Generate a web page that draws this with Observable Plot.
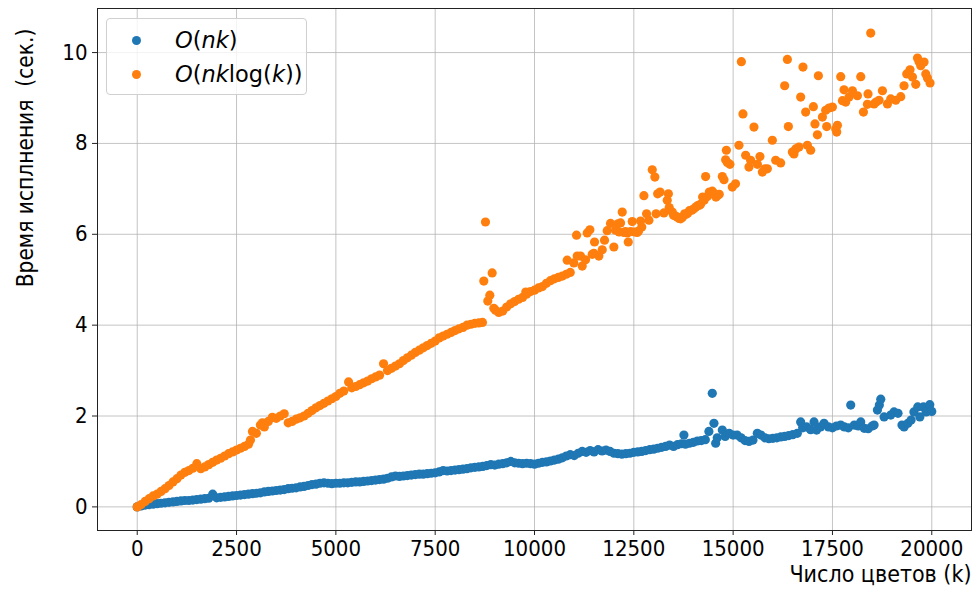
<!DOCTYPE html>
<html><head><meta charset="utf-8">
<script src="https://cdn.jsdelivr.net/npm/d3@7"></script>
<script src="https://cdn.jsdelivr.net/npm/@observablehq/plot@0.6"></script>
<style>
body{margin:0;background:#fff;}
#wrap{position:relative;width:974px;height:596px;}
#legend{position:absolute;left:106px;top:18px;width:201px;height:77px;border:1px solid #d0d0d0;border-radius:4px;background:rgba(255,255,255,0.8);font-family:"DejaVu Sans",sans-serif;font-size:22.5px;box-sizing:border-box;color:#000;}
.row{position:absolute;left:0;height:30px;display:flex;align-items:center;white-space:nowrap;}
.sw{display:inline-block;width:9px;height:9px;border-radius:50%;margin-left:25px;margin-right:34px;}
.up{font-style:normal}
</style></head>
<body><div id="wrap"></div>
<script>
const xTicks = [0, 2500, 5000, 7500, 10000, 12500, 15000, 17500, 20000];
const yTicks = [0, 2, 4, 6, 8, 10];
const xLabel = "Число цветов (k)";
const yLabel = "Время исплнения\u00a0 (сек.)";
const colors = ["#1f77b4", "#ff7f0e"];

// O(nk): [k, seconds]
const seriesNK = [[0,0.00],[100,0.02],[200,0.04],[300,0.05],[400,0.06],[500,0.07],[600,0.08],[700,0.09],[800,0.10],[900,0.11],[1000,0.12],[1100,0.13],[1200,0.14],[1300,0.14],[1400,0.15],[1500,0.16],[1600,0.17],[1700,0.18],[1800,0.19],[1900,0.28],[2000,0.20],[2100,0.21],[2200,0.22],[2300,0.23],[2400,0.24],[2500,0.25],[2600,0.26],[2700,0.27],[2800,0.28],[2900,0.29],[3000,0.30],[3100,0.31],[3200,0.33],[3300,0.34],[3400,0.35],[3500,0.36],[3600,0.37],[3700,0.38],[3800,0.40],[3900,0.41],[4000,0.42],[4100,0.44],[4200,0.45],[4300,0.47],[4400,0.49],[4500,0.50],[4600,0.52],[4700,0.53],[4800,0.52],[4900,0.51],[5000,0.52],[5100,0.52],[5200,0.53],[5300,0.53],[5400,0.54],[5500,0.55],[5600,0.55],[5700,0.56],[5800,0.57],[5900,0.58],[6000,0.59],[6100,0.60],[6200,0.61],[6300,0.63],[6400,0.66],[6500,0.68],[6600,0.67],[6700,0.68],[6800,0.69],[6900,0.70],[7000,0.71],[7100,0.72],[7200,0.72],[7300,0.73],[7400,0.74],[7500,0.75],[7600,0.77],[7700,0.80],[7800,0.79],[7900,0.80],[8000,0.81],[8100,0.82],[8200,0.83],[8300,0.84],[8400,0.86],[8500,0.87],[8600,0.88],[8700,0.89],[8800,0.91],[8900,0.93],[9000,0.92],[9100,0.94],[9200,0.95],[9300,0.97],[9400,1.00],[9500,0.97],[9600,0.96],[9700,0.95],[9800,0.96],[9900,0.95],[10000,0.94],[10100,0.96],[10200,0.98],[10300,0.99],[10400,1.01],[10500,1.03],[10600,1.05],[10700,1.08],[10800,1.12],[10900,1.15],[11000,1.13],[11100,1.18],[11200,1.22],[11300,1.20],[11400,1.24],[11500,1.21],[11600,1.26],[11700,1.23],[11800,1.25],[11900,1.22],[12000,1.18],[12100,1.17],[12200,1.16],[12300,1.17],[12400,1.18],[12500,1.20],[12600,1.21],[12700,1.22],[12800,1.24],[12900,1.26],[13000,1.27],[13100,1.29],[13200,1.31],[13300,1.33],[13400,1.36],[13500,1.33],[13600,1.37],[13700,1.39],[13761,1.58],[13800,1.38],[13900,1.40],[14000,1.42],[14100,1.45],[14200,1.46],[14300,1.48],[14390,1.66],[14475,2.50],[14517,1.84],[14560,1.40],[14600,1.52],[14727,1.69],[14800,1.55],[14900,1.62],[15000,1.58],[15100,1.58],[15200,1.52],[15300,1.46],[15400,1.44],[15500,1.47],[15609,1.62],[15700,1.58],[15800,1.52],[15900,1.50],[16000,1.51],[16100,1.52],[16200,1.54],[16300,1.55],[16400,1.57],[16500,1.59],[16616,1.62],[16700,1.87],[16750,1.74],[16850,1.76],[16950,1.70],[17036,1.87],[17100,1.69],[17200,1.76],[17288,1.84],[17400,1.76],[17500,1.74],[17600,1.78],[17708,1.80],[17800,1.76],[17900,1.74],[17960,2.24],[18050,1.80],[18150,1.78],[18212,1.87],[18300,1.73],[18400,1.72],[18500,1.78],[18548,1.80],[18632,2.13],[18680,2.24],[18716,2.37],[18800,1.98],[18967,2.02],[19050,2.09],[19150,2.06],[19250,1.80],[19303,1.76],[19400,1.84],[19479,1.91],[19550,2.09],[19647,2.20],[19700,1.98],[19790,2.20],[19857,2.09],[19950,2.25],[20000,2.10]];

// O(nk log(k)): [k, seconds]
const seriesNKlogK = [[0,0.00],[100,0.05],[200,0.12],[300,0.18],[400,0.24],[500,0.28],[600,0.34],[700,0.40],[800,0.47],[900,0.55],[1000,0.62],[1100,0.70],[1200,0.76],[1300,0.80],[1400,0.85],[1500,0.95],[1600,0.84],[1700,0.88],[1800,0.93],[1900,0.98],[2000,1.03],[2100,1.07],[2200,1.12],[2300,1.17],[2400,1.21],[2500,1.25],[2600,1.29],[2700,1.33],[2800,1.38],[2850,1.47],[2900,1.66],[3000,1.62],[3100,1.80],[3150,1.85],[3200,1.76],[3300,1.88],[3400,1.97],[3500,1.95],[3600,2.00],[3700,2.05],[3800,1.85],[3900,1.88],[4000,1.93],[4100,1.96],[4200,2.00],[4300,2.06],[4400,2.12],[4500,2.18],[4600,2.23],[4700,2.28],[4800,2.33],[4900,2.38],[5000,2.43],[5100,2.50],[5200,2.55],[5320,2.75],[5400,2.62],[5500,2.65],[5600,2.69],[5700,2.73],[5800,2.77],[5900,2.82],[6000,2.86],[6100,2.90],[6200,3.15],[6300,3.00],[6400,3.05],[6500,3.10],[6600,3.15],[6700,3.22],[6800,3.28],[6900,3.34],[7000,3.40],[7100,3.45],[7200,3.50],[7300,3.55],[7400,3.60],[7500,3.65],[7600,3.72],[7700,3.76],[7800,3.80],[7900,3.84],[8000,3.88],[8100,3.92],[8200,3.95],[8300,4.00],[8400,4.02],[8500,4.04],[8600,4.05],[8690,4.06],[8724,4.97],[8766,6.27],[8824,4.53],[8875,4.66],[8934,5.15],[8976,4.37],[9018,4.33],[9100,4.28],[9200,4.31],[9300,4.40],[9400,4.47],[9500,4.52],[9600,4.57],[9700,4.61],[9780,4.73],[9800,4.68],[9900,4.74],[10000,4.77],[10100,4.82],[10200,4.85],[10300,4.92],[10400,4.98],[10500,5.02],[10600,5.05],[10700,5.08],[10800,5.12],[10823,5.43],[10900,5.16],[10990,5.37],[11058,5.98],[11075,5.52],[11159,5.52],[11201,5.30],[11285,5.44],[11327,6.03],[11394,6.10],[11453,5.56],[11494,5.58],[11511,5.83],[11620,5.52],[11705,5.66],[11763,5.87],[11830,6.08],[11914,6.24],[11998,5.72],[12040,6.09],[12100,6.23],[12130,6.05],[12166,6.25],[12208,6.49],[12250,6.04],[12290,6.06],[12334,6.03],[12360,5.83],[12420,6.06],[12460,6.28],[12520,6.05],[12586,6.04],[12620,6.07],[12670,6.29],[12700,6.16],[12754,6.85],[12821,6.45],[12880,6.31],[12964,7.42],[13030,7.26],[13060,6.45],[13100,6.89],[13160,6.93],[13257,6.47],[13341,6.75],[13370,6.89],[13390,6.59],[13468,6.49],[13500,6.42],[13550,6.40],[13594,6.38],[13640,6.35],[13678,6.34],[13720,6.37],[13779,6.45],[13820,6.44],[13860,6.47],[13900,6.52],[13960,6.53],[14013,6.56],[14060,6.60],[14106,6.63],[14150,6.64],[14181,6.66],[14232,6.82],[14270,6.75],[14307,7.27],[14350,6.83],[14400,6.93],[14440,6.90],[14476,6.95],[14520,6.90],[14567,6.82],[14602,6.85],[14650,6.88],[14728,7.27],[14770,7.20],[14811,7.64],[14830,7.85],[14854,7.58],[14919,7.54],[14979,7.04],[15060,7.11],[15146,7.96],[15207,9.80],[15247,8.65],[15315,7.74],[15398,7.48],[15440,7.63],[15524,8.36],[15610,7.54],[15675,7.71],[15736,7.37],[15800,7.44],[15861,7.44],[15987,8.07],[16071,7.63],[16196,7.57],[16297,9.27],[16365,9.85],[16390,8.37],[16491,7.81],[16531,7.77],[16574,7.88],[16657,7.92],[16700,9.02],[16758,9.68],[16826,8.69],[16869,7.96],[16952,7.85],[17020,8.81],[17060,8.43],[17121,8.19],[17146,9.49],[17247,8.58],[17330,8.73],[17355,8.37],[17413,8.78],[17499,8.80],[17582,8.32],[17607,8.25],[17625,8.40],[17708,9.47],[17751,8.94],[17791,9.18],[17834,8.91],[17917,9.02],[18003,9.16],[18128,9.05],[18212,9.47],[18280,8.69],[18380,8.86],[18395,9.09],[18463,10.43],[18547,8.87],[18600,8.91],[18673,8.95],[18758,9.16],[18884,8.87],[18967,8.98],[19093,8.95],[19219,9.03],[19302,9.27],[19370,9.53],[19453,9.62],[19514,9.46],[19597,9.30],[19640,9.88],[19680,9.80],[19723,9.71],[19806,9.79],[19849,9.53],[19892,9.44],[19957,9.33]];

const blue = seriesNK.map(([k, t]) => ({k, t}));
const orange = seriesNKlogK.map(([k, t]) => ({k, t}));

const tickFont = '"DejaVu Sans Condensed","DejaVu Sans",sans-serif';

const chart = Plot.plot({
  width: 974,
  height: 596,
  marginLeft: 97,
  marginRight: 3,
  marginTop: 8,
  marginBottom: 66,
  x: {domain: [-1000, 21000]},
  y: {domain: [-0.52, 10.97]},
  style: {fontFamily: tickFont, fontSize: "22px", color: "#000", background: "#fff", overflow: "visible"},
  marks: [
    Plot.gridX(xTicks, {stroke: "#b0b0b0", strokeOpacity: 0.75, strokeWidth: 1}),
    Plot.gridY(yTicks, {stroke: "#b0b0b0", strokeOpacity: 0.75, strokeWidth: 1}),
    Plot.dot(blue, {x: "k", y: "t", r: 4.6, fill: colors[0], stroke: "none"}),
    Plot.dot(orange, {x: "k", y: "t", r: 4.6, fill: colors[1], stroke: "none"}),
    Plot.frame({stroke: "#222", strokeWidth: 1}),
    Plot.axisX(xTicks, {tickSize: 5, tickPadding: 5, label: null, tickFormat: d => String(d), fontSize: 22, stroke: "#222"}),
    Plot.axisY(yTicks, {tickSize: 5, tickPadding: 5, label: null, tickFormat: d => String(d), fontSize: 22, stroke: "#222"}),
    Plot.text([xLabel], {frameAnchor: "bottom-right", textAnchor: "end", dy: 51, dx: 0, fontSize: 23}),
  ]
});

const wrap = document.getElementById("wrap");
wrap.appendChild(chart);

// y-axis label
const svg = d3.select(chart);
svg.append("text")
  .attr("transform", "translate(25,158) rotate(-90)")
  .attr("text-anchor", "middle")
  .attr("dominant-baseline", "central")
  .attr("font-size", 22.5)
  .attr("font-family", tickFont)
  .attr("fill", "#000")
  .style("white-space", "pre")
  .text(yLabel);

// legend
const legend = document.createElement("div");
legend.id = "legend";
legend.innerHTML =
  `<div class="row" style="top:6px"><span class="sw" style="background:${colors[0]}"></span><span><i>O</i><span class="up">(</span><i>nk</i><span class="up">)</span></span></div>` +
  `<div class="row" style="top:40px"><span class="sw" style="background:${colors[1]}"></span><span><i>O</i><span class="up">(</span><i>nk</i><span class="up">log(</span><i>k</i><span class="up">))</span></span></div>`;
wrap.appendChild(legend);
</script>
</body></html>
